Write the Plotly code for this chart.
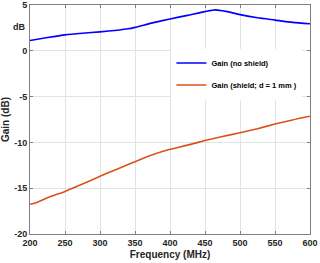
import plotly.graph_objects as go

freq_blue = [200, 225, 250, 275, 300, 325, 340, 350, 375, 400, 425, 450, 465, 480, 500, 525, 550, 575, 600]
gain_no_shield = [1.13, 1.45, 1.74, 1.92, 2.07, 2.25, 2.40, 2.56, 3.05, 3.48, 3.87, 4.28, 4.47, 4.30, 3.95, 3.60, 3.35, 3.10, 2.95]

freq_orange = [200, 210, 225, 250, 275, 300, 325, 350, 375, 400, 425, 450, 475, 500, 525, 550, 575, 600]
gain_shield = [-16.75, -16.55, -16.05, -15.35, -14.55, -13.7, -12.9, -12.1, -11.35, -10.75, -10.3, -9.8, -9.35, -8.95, -8.5, -8.0, -7.55, -7.15]

x_ticks = [200, 250, 300, 350, 400, 450, 500, 550, 600]
y_ticks = [-20, -15, -10, -5, 0, 5]

font_family = "Liberation Sans, Arial, sans-serif"

fig = go.Figure()
fig.add_trace(go.Scatter(x=freq_blue, y=gain_no_shield, mode="lines",
                         line=dict(color="#0000FF", width=1.6, shape="spline", smoothing=0.6),
                         name="<b>Gain (no shield)</b>", legendgroup="a"))
fig.add_trace(go.Scatter(x=freq_orange, y=gain_shield, mode="lines",
                         line=dict(color="#D95319", width=1.6, shape="spline", smoothing=0.6),
                         name="<b>Gain (shield; d = 1 mm )</b>", legendgroup="b"))

axis_common = dict(showgrid=True, gridcolor="#E3E3E3", gridwidth=1,
                   showline=True, linecolor="#808080", linewidth=1, mirror="ticks",
                   ticks="inside", ticklen=3, tickcolor="#808080",
                   tickfont=dict(family=font_family, size=9, color="#262626"),
                   zeroline=False, automargin=False)

fig.update_xaxes(range=[200, 600], tickvals=x_ticks, ticktext=[f"<b>{v}</b>" for v in x_ticks],
                 title=dict(text="<b>Frequency (MHz)</b>", font=dict(family=font_family, size=10, color="#262626"), standoff=4),
                 **axis_common)
fig.update_yaxes(range=[-20, 5], tickvals=y_ticks, ticktext=[f"<b>{v}</b>" for v in y_ticks],
                 title=dict(text="<b>Gain (dB)</b>", font=dict(family=font_family, size=10, color="#262626"), standoff=4),
                 **axis_common)

fig.add_annotation(text="<b>dB</b>", xref="paper", yref="y", x=-0.068, y=2.6,
                   showarrow=False, font=dict(family=font_family, size=9, color="#262626"))

fig.update_layout(width=320, height=263,
                  margin=dict(l=30, r=10, t=5, b=29),
                  plot_bgcolor="white", paper_bgcolor="white",
                  legend=dict(x=0.505, y=0.81, xanchor="left", yanchor="top",
                              bgcolor="white", borderwidth=0,
                              font=dict(family=font_family, size=7.5, color="#000000"),
                              itemwidth=30, tracegroupgap=3),
                  showlegend=True)

fig.write_html("out.html", config={"displayModeBar": False},
               post_script="document.body.style.margin='0px';")
